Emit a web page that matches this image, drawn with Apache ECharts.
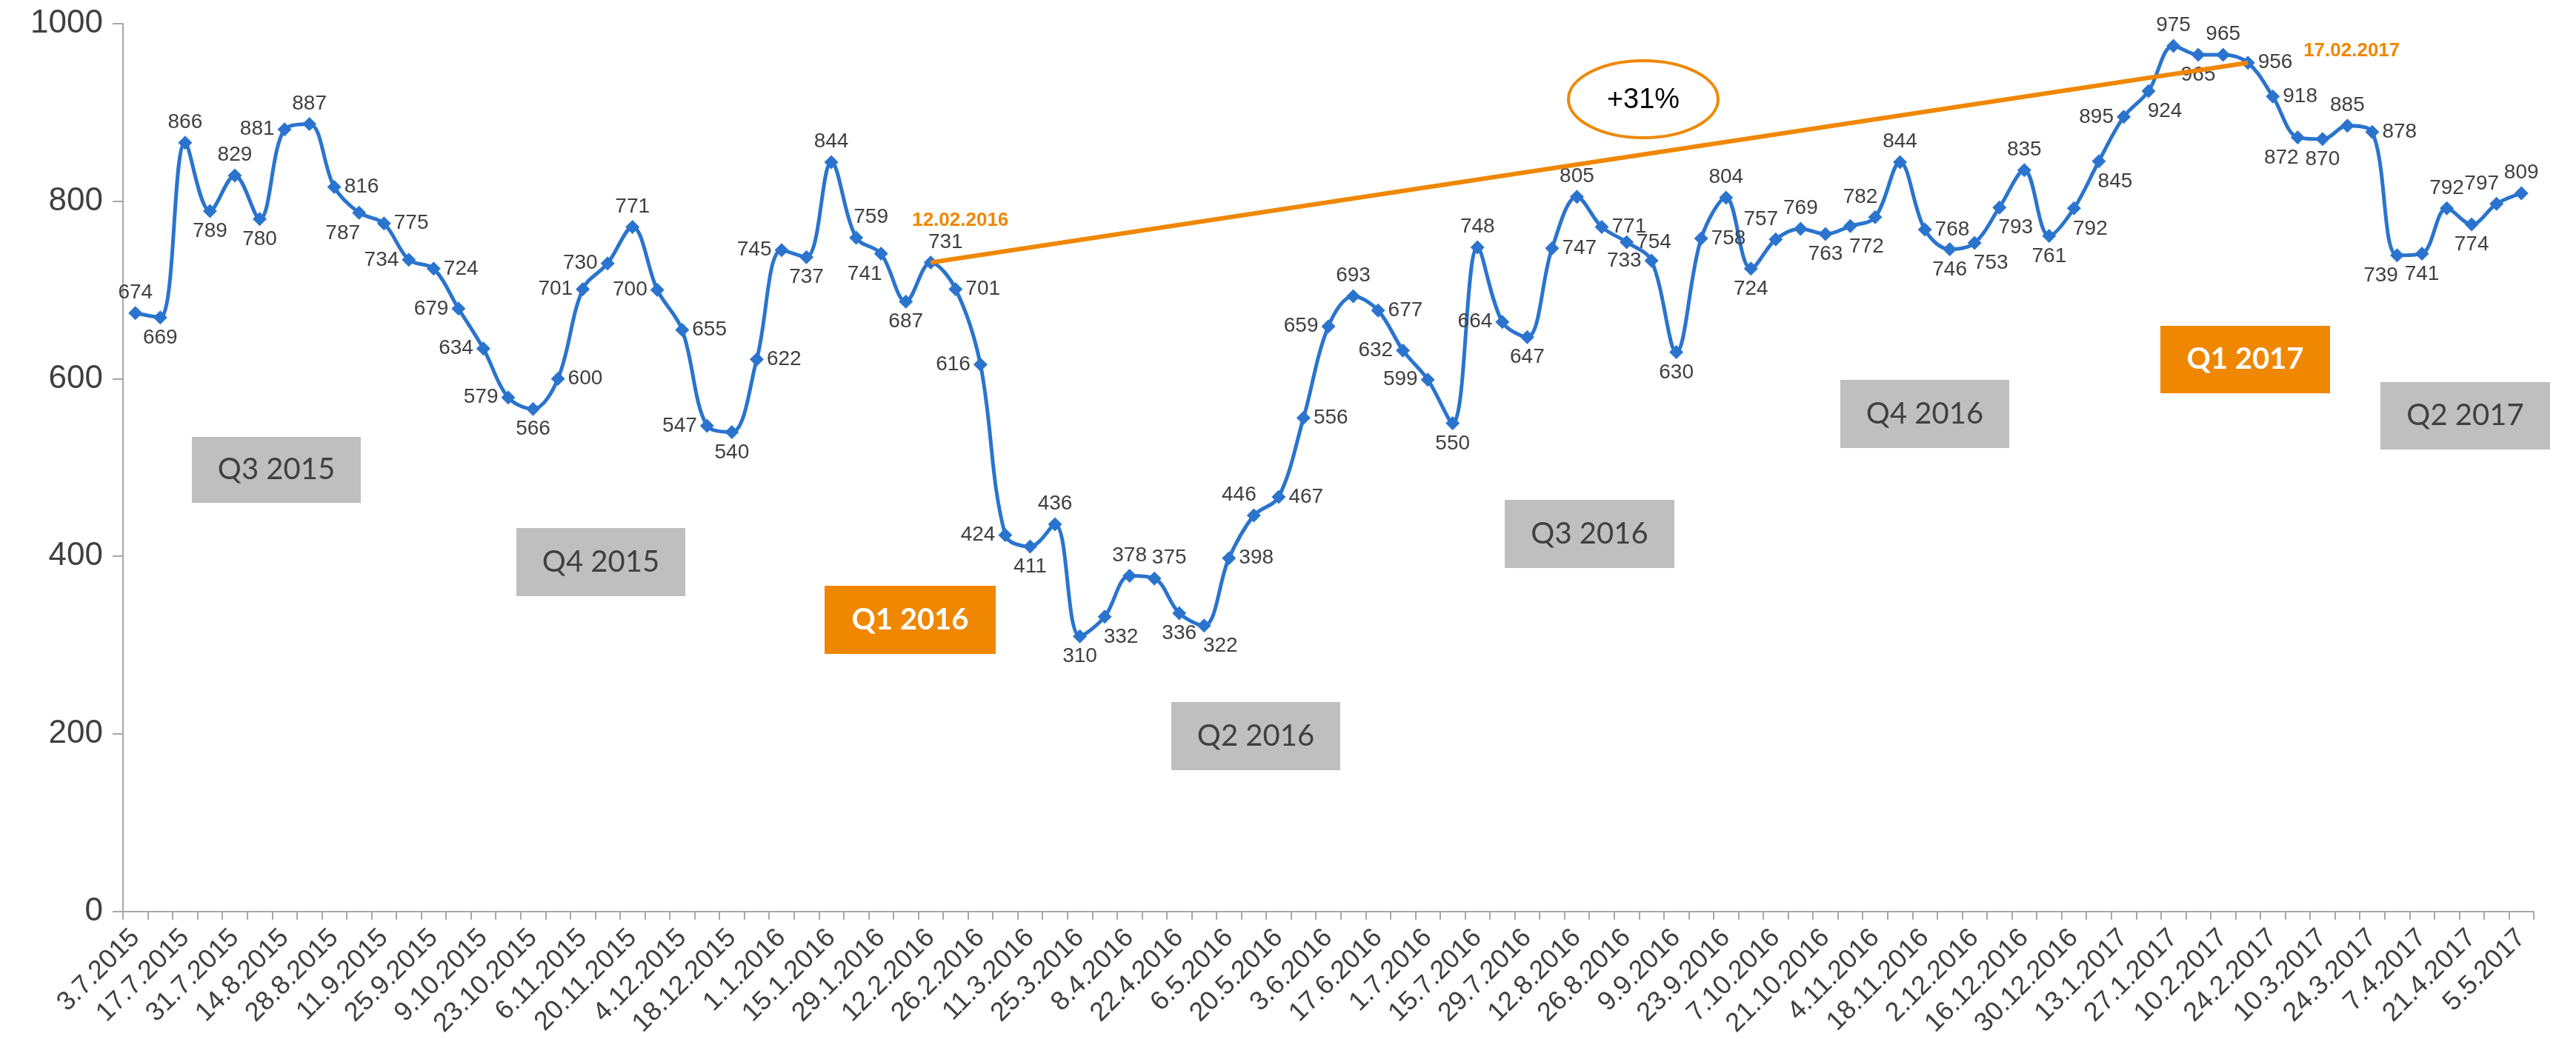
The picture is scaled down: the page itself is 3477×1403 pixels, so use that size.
<!DOCTYPE html>
<html>
<head>
<meta charset="utf-8">
<script src="https://cdn.jsdelivr.net/npm/echarts@6/dist/echarts.min.js"></script>
<style>
html,body{margin:0;padding:0;background:#fff;}
#chart{width:3477px;height:1403px;}
</style>
</head>
<body>
<div id="chart"></div>
<script>
// ---- data ----
const categories = [
 '3.7.2015','10.7.2015','17.7.2015','24.7.2015','31.7.2015','7.8.2015','14.8.2015','21.8.2015','28.8.2015','4.9.2015',
 '11.9.2015','18.9.2015','25.9.2015','2.10.2015','9.10.2015','16.10.2015','23.10.2015','30.10.2015','6.11.2015','13.11.2015',
 '20.11.2015','27.11.2015','4.12.2015','11.12.2015','18.12.2015','25.12.2015',
 '1.1.2016','8.1.2016','15.1.2016','22.1.2016','29.1.2016','5.2.2016','12.2.2016','19.2.2016','26.2.2016','4.3.2016',
 '11.3.2016','18.3.2016','25.3.2016','1.4.2016','8.4.2016','15.4.2016','22.4.2016','29.4.2016','6.5.2016','13.5.2016',
 '20.5.2016','27.5.2016','3.6.2016','10.6.2016','17.6.2016','24.6.2016','1.7.2016','8.7.2016','15.7.2016','22.7.2016',
 '29.7.2016','5.8.2016','12.8.2016','19.8.2016','26.8.2016','2.9.2016','9.9.2016','16.9.2016','23.9.2016','30.9.2016',
 '7.10.2016','14.10.2016','21.10.2016','28.10.2016','4.11.2016','11.11.2016','18.11.2016','25.11.2016','2.12.2016','9.12.2016',
 '16.12.2016','23.12.2016','30.12.2016',
 '6.1.2017','13.1.2017','20.1.2017','27.1.2017','3.2.2017','10.2.2017','17.2.2017','24.2.2017','3.3.2017','10.3.2017',
 '17.3.2017','24.3.2017','31.3.2017','7.4.2017','14.4.2017','21.4.2017','28.4.2017','5.5.2017'
];
const values = [
 674,669,866,789,829,780,881,887,816,787,
 775,734,724,679,634,579,566,600,701,730,
 771,700,655,547,540,622,745,737,844,759,
 741,687,731,701,616,424,411,436,310,332,
 378,375,336,322,398,446,467,556,659,693,
 677,632,599,550,748,664,647,747,805,771,
 754,733,630,758,804,724,757,769,763,772,
 782,844,768,746,753,793,835,761,792,845,
 895,924,975,965,965,956,918,872,870,885,
 878,739,741,792,774,797,809
];
const yTicks = [0, 200, 400, 600, 800, 1000];
const quarterLabels = ['Q3 2015','Q4 2015','Q1 2016','Q2 2016','Q3 2016','Q4 2016','Q1 2017','Q2 2017'];
const trendStartIndex = 32;   // 12.02.2016
const trendEndIndex = 85;     // 17.02.2017
const trendStartText = '12.02.2016';
const trendEndText = '17.02.2017';
const trendChangeText = '+31%';

// ---- styling (label placement per point, as in the original) ----
const labelPos = [
 't','b','t','b','t','b','l','t','r','bl',
 'r','l','r','l','l','l','b','r','l','l',
 't','l','r','l','b','r','l','b','t','tr',
 'bl','b','tr','r','l','l','b','t','b','br',
 't','tr','b','br','r','tl','r','r','l','t',
 'r','l','l','b','t','l','b','r','t','r',
 'r','l','b','r','t','b','tl','t','b','br',
 'tl','t','r','b','br','br','t','b','br','br',
 'l','br','t','b','t','r','r','bl','b','t',
 'r','bl','b','t','b','tl','t'
];
const BLUE = '#2A74CE';
const ORANGE = '#EF8700';
const TXT = '#404040';
const AXIS = '#A6A6A6';

function labelFor(code){
  const map = {
    t:{position:'top'}, b:{position:'bottom'}, l:{position:'left'}, r:{position:'right'},
    tl:{position:'top', offset:[-20,0]}, tr:{position:'top', offset:[20,0]},
    bl:{position:'bottom', offset:[-22,0]}, br:{position:'bottom', offset:[22,0]}
  };
  return map[code] || {position:'top'};
}

const quarterBoxes = [
  {x:259, y:590, w:228, h:89, hi:false},
  {x:697, y:713, w:228, h:92, hi:false},
  {x:1113, y:791, w:231, h:92, hi:true},
  {x:1581, y:948, w:228, h:92, hi:false},
  {x:2031, y:675, w:229, h:92, hi:false},
  {x:2484, y:513, w:228, h:92, hi:false},
  {x:2916, y:440, w:229, h:91, hi:true},
  {x:3213, y:516, w:229, h:91, hi:false}
];

const graphics = [];
quarterLabels.forEach((q, i) => {
  const b = quarterBoxes[i];
  graphics.push({
    type:'rect', z:10,
    shape:{x:b.x, y:b.y, width:b.w, height:b.h},
    style:{fill: b.hi ? ORANGE : '#BFBFBF'}
  });
  graphics.push({
    type:'text', z:11,
    x: b.x + b.w/2, y: b.y + b.h/2,
    style:{
      text:q, align:'center', verticalAlign:'middle',
      fill: b.hi ? '#FFFFFF' : TXT,
      font: (b.hi ? 'bold ' : '') + '40px Lato'
    }
  });
});
graphics.push({
  type:'ellipse', z:10,
  shape:{cx:2218, cy:134, rx:101, ry:52},
  style:{fill:'none', stroke:ORANGE, lineWidth:4}
});
graphics.push({
  type:'text', z:11, x:2218, y:136,
  style:{text:trendChangeText, align:'center', verticalAlign:'middle', fill:'#000', font:'38px "Liberation Sans"'}
});

const seriesData = values.map((v, i) => ({
  value: v,
  label: labelFor(labelPos[i])
}));

const chart = echarts.init(document.getElementById('chart'), null, {renderer:'canvas'});
chart.setOption({
  animation:false,
  backgroundColor:'#fff',
  grid:{left:166, right:57, top:32, bottom:171, containLabel:false},
  xAxis:{
    type:'category', data:categories, boundaryGap:true,
    axisLine:{show:true, lineStyle:{color:AXIS, width:2}},
    axisTick:{show:true, interval:0, length:11, lineStyle:{color:AXIS, width:2}},
    axisLabel:{interval:1, rotate:45, fontSize:36, color:TXT, fontFamily:'"Liberation Sans", Arial', margin:30},
    splitLine:{show:false}
  },
  yAxis:{
    type:'value', min:yTicks[0], max:yTicks[yTicks.length-1], interval:yTicks[1]-yTicks[0],
    axisLine:{show:true, lineStyle:{color:AXIS, width:2}},
    axisTick:{show:true, length:14, lineStyle:{color:AXIS, width:2}},
    axisLabel:{fontSize:44, color:TXT, fontFamily:'"Liberation Sans", Arial', margin:27,
               formatter:(v) => String(v)},
    splitLine:{show:false}
  },
  series:[{
    type:'line',
    data:seriesData,
    smooth:0.35,
    symbol:'diamond',
    symbolSize:19,
    lineStyle:{color:BLUE, width:5},
    itemStyle:{color:BLUE},
    label:{show:true, fontSize:28, color:TXT, fontFamily:'"Liberation Sans", Arial', distance:4},
    markLine:{
      silent:true, symbol:'none', z:5,
      lineStyle:{color:ORANGE, width:6, type:'solid'},
      label:{show:false},
      data:[[
        {coord:[categories[trendStartIndex], values[trendStartIndex]]},
        {coord:[categories[trendEndIndex], values[trendEndIndex]]}
      ]]
    },
    markPoint:{
      silent:true, symbol:'circle', symbolSize:0,
      label:{show:true, color:ORANGE, fontWeight:'bold', fontSize:26, fontFamily:'"Liberation Sans", Arial'},
      data:[
        {coord:[categories[trendStartIndex], values[trendStartIndex]], value:trendStartText,
         label:{formatter:trendStartText, offset:[40,-57]}},
        {coord:[categories[trendEndIndex], values[trendEndIndex]], value:trendEndText,
         label:{formatter:trendEndText, offset:[140,-16]}}
      ]
    }
  }],
  graphic:graphics
});
</script>
</body>
</html>
